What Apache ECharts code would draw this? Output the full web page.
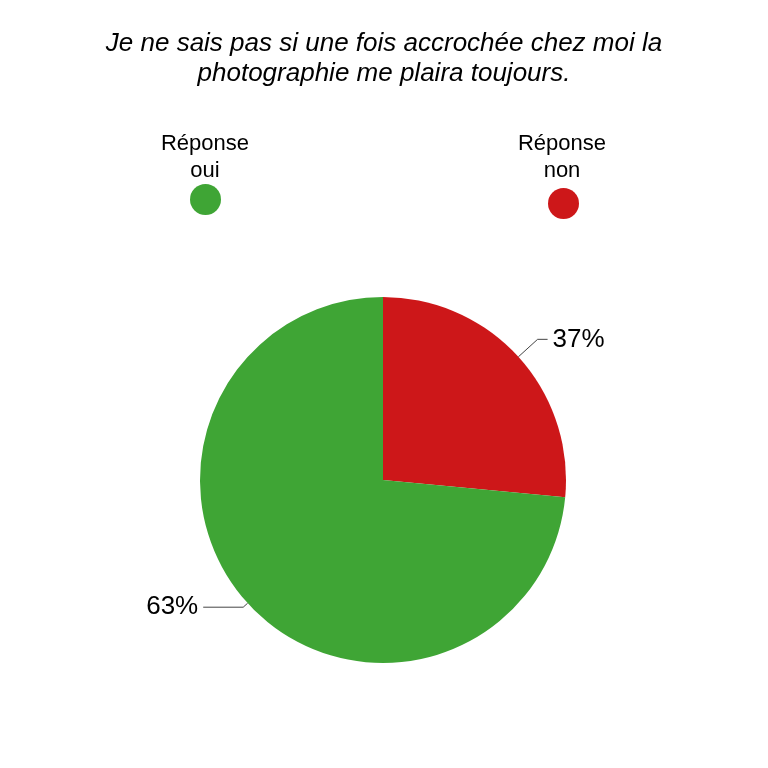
<!DOCTYPE html>
<html>
<head>
<meta charset="utf-8">
<script src="https://cdn.jsdelivr.net/npm/echarts@6/dist/echarts.min.js"></script>
<style>html,body{margin:0;padding:0;background:#fff;}</style>
</head>
<body>
    <div id="main" style="width: 768px;height:768px;"></div>
    <script>
        // données
        var categories = ['Réponse non', 'Réponse oui'];
        var sliceShare = [26.5, 73.5];          // part dessinée de chaque secteur
        var shareLabels = ['37%', '63%'];       // pourcentages affichés
        var colors = ['#cd1719', '#3fa535'];
        var legendOrder = ['Réponse oui', 'Réponse non'];

        // longueur des traits de rappel, par secteur
        var lineLen = [[26, 10], [6, 40]];

        var pieData = categories.map(function (name, i) {
            return {
                name: name,
                value: sliceShare[i],
                itemStyle: { color: colors[i] },
                labelLine: { length: lineLen[i][0], length2: lineLen[i][1] }
            };
        });

        var myChart = echarts.init(document.getElementById('main'));
        var option = {
            backgroundColor: '#fff',
            animation: false,
            title: {
                text: 'Je ne sais pas si une fois accrochée chez moi la\nphotographie me plaira toujours.',
                left: 'center',
                top: 24,
                textStyle: {
                    fontFamily: 'Liberation Sans',
                    fontStyle: 'italic',
                    fontWeight: 'normal',
                    fontSize: 26,
                    lineHeight: 30,
                    color: '#000'
                }
            },
            legend: [{
                data: [legendOrder[0]],
                icon: 'circle',
                itemWidth: 31,
                itemHeight: 31,
                left: 185,
                top: 179,
                formatter: function () { return ''; },
                textStyle: { fontSize: 1 }
            }, {
                data: [legendOrder[1]],
                icon: 'circle',
                itemWidth: 31,
                itemHeight: 31,
                left: 543,
                top: 183,
                formatter: function () { return ''; },
                textStyle: { fontSize: 1 }
            }],
            graphic: [{
                type: 'text',
                x: 205,
                y: 130,
                style: {
                    text: 'Réponse\noui',
                    align: 'center',
                    font: '22px "Liberation Sans"',
                    lineHeight: 27,
                    fill: '#000'
                }
            }, {
                type: 'text',
                x: 562,
                y: 130,
                style: {
                    text: 'Réponse\nnon',
                    align: 'center',
                    font: '22px "Liberation Sans"',
                    lineHeight: 27,
                    fill: '#000'
                }
            }],
            series: [{
                type: 'pie',
                center: [383, 480],
                radius: 183,
                startAngle: 90,
                clockwise: true,
                data: pieData,
                label: {
                    show: true,
                    formatter: function (p) { return shareLabels[p.dataIndex]; },
                    fontFamily: 'Liberation Sans',
                    fontSize: 26,
                    color: '#000'
                },
                labelLine: {
                    show: true,
                    lineStyle: { color: '#444', width: 1 }
                },
                emphasis: { disabled: true }
            }]
        };
        myChart.setOption(option);
    </script>
</body>
</html>
